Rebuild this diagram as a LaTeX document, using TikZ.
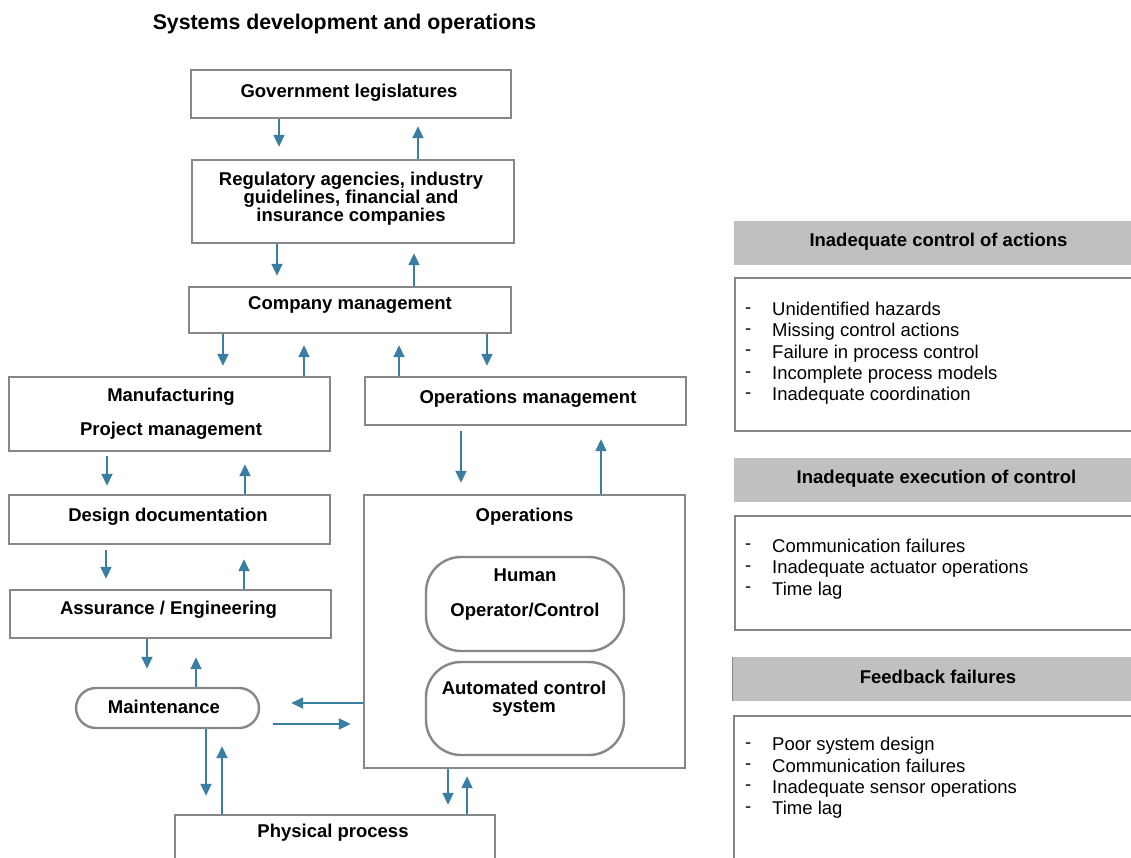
\documentclass[tikz,border=0pt]{standalone}
\usepackage{fontspec}
\setmainfont{Liberation Sans}
\usetikzlibrary{arrows.meta}
\definecolor{arrblue}{RGB}{58,127,161}
\definecolor{boxgray}{RGB}{135,135,138}
\definecolor{hdrgray}{RGB}{192,192,192}
\tikzset{
  box/.style={draw=boxgray, line width=2.4pt, fill=white, inner sep=0pt},
  rbox/.style={box, rounded corners=#1},
  lbl/.style={font=\bfseries\fontsize{18.5}{18}\selectfont, align=center, inner sep=0pt},
  hdr/.style={fill=hdrgray, draw=none, inner sep=0pt},
  lst/.style={font=\fontsize{18.5}{21.3}\selectfont, align=left, inner sep=0pt, anchor=west},
  arr/.style={draw=arrblue, line width=1.8pt, -{Triangle[width=11pt,length=12pt]}, arrblue},
}
\newcommand{\itm}[1]{\makebox[27pt][l]{\raisebox{2.5pt}{-}}#1}
\begin{document}
\begin{tikzpicture}[x=1pt,y=-1pt]
\useasboundingbox (0,0) rectangle (1131,857);
\clip (0,0) rectangle (1131,857);
\fill[white] (0,0) rectangle (1131,857);

\node[font=\bfseries\fontsize{21.3}{24}\selectfont, inner sep=0pt] (title) at (344.5,24) {Systems development and operations};

% left column boxes
\node[box, minimum width=320pt, minimum height=48pt] (gov) at (351,94) {};
\node[lbl] (govt) at (349,93) {Government legislatures};
\node[box, minimum width=322pt, minimum height=83pt] (reg) at (353,201.5) {};
\node[lbl] (regt) at (351,199) {Regulatory agencies, industry\\guidelines, financial and\\insurance companies};
\node[box, minimum width=322pt, minimum height=46pt] (cm) at (350,310) {};
\node[lbl] (cmt) at (350,305) {Company management};
\node[box, minimum width=321pt, minimum height=74pt] (mfg) at (169.5,414) {};
\node[lbl] (mfgt) at (171,414) {Manufacturing\\[16pt]Project management};
\node[box, minimum width=321pt, minimum height=48pt] (om) at (525.5,401) {};
\node[lbl] (omt) at (528,399) {Operations management};
\node[box, minimum width=321pt, minimum height=49pt] (dd) at (169.5,519.5) {};
\node[lbl] (ddt) at (168,517) {Design documentation};
\node[box, minimum width=321pt, minimum height=48pt] (ae) at (170.5,614) {};
\node[lbl] (aet) at (168.5,610) {Assurance / Engineering};
\node[rbox=20pt, minimum width=183pt, minimum height=40pt] (mt) at (167.5,708) {};
\node[lbl] (mtt) at (164,707) {Maintenance};
\node[box, minimum width=321pt, minimum height=273pt] (ops) at (524.5,631.5) {};
\node[lbl] (opst) at (524.5,517) {Operations};
\node[rbox=35pt, minimum width=198pt, minimum height=94pt] (hum) at (525,604) {};
\node[lbl] (humt) at (525,595) {Human\\[17pt]Operator/Control};
\node[rbox=35pt, minimum width=198pt, minimum height=93pt] (acs) at (525,708.5) {};
\node[lbl] (acst) at (524,699) {Automated control\\system};
\node[box, minimum width=320pt, minimum height=60pt] (pp) at (335,845) {};
\node[lbl] (ppt) at (333,833) {Physical process};

% arrows
\draw[arr, shorten >=12pt] (279,0 |- gov.south) -- (279,0 |- reg.north);
\draw[arr, shorten >=7pt] (418,0 |- reg.north) -- (418,0 |- gov.south);
\draw[arr, shorten >=10pt] (277,0 |- reg.south) -- (277,0 |- cm.north);
\draw[arr, shorten >=9pt] (414,0 |- cm.north) -- (414,0 |- reg.south);
\draw[arr, shorten >=10pt] (223,0 |- cm.south) -- (223,0 |- mfg.north);
\draw[arr, shorten >=11pt] (304,0 |- mfg.north) -- (304,0 |- cm.south);
\draw[arr, shorten >=11pt] (399,0 |- om.north) -- (399,0 |- cm.south);
\draw[arr, shorten >=10pt] (487,0 |- cm.south) -- (487,0 |- om.north);
\draw[arr, shorten <=4pt, shorten >=8pt] (107,0 |- mfg.south) -- (107,0 |- dd.north);
\draw[arr, shorten >=12pt] (245,0 |- dd.north) -- (245,0 |- mfg.south);
\draw[arr, shorten <=5pt, shorten >=11pt] (461,0 |- om.south) -- (461,0 |- ops.north);
\draw[arr, shorten >=13pt] (601,0 |- ops.north) -- (601,0 |- om.south);
\draw[arr, shorten <=5pt, shorten >=10pt] (106,0 |- dd.south) -- (106,0 |- ae.north);
\draw[arr, shorten >=14pt] (244,0 |- ae.north) -- (244,0 |- dd.south);
\draw[arr, shorten >=18pt] (147,0 |- ae.south) -- (147,0 |- mt.north);
\draw[arr, shorten >=18pt] (196,0 |- mt.north) -- (196,0 |- ae.south);
\draw[arr, shorten >=31pt] (ops.west |- 0,703) -- (mt.east |- 0,703);
\draw[arr, shorten <=13pt, shorten >=12pt] (mt.east |- 0,724) -- (ops.west |- 0,724);
\draw[arr, shorten >=18pt] (206,0 |- mt.south) -- (206,0 |- pp.north);
\draw[arr, shorten >=17pt] (222,0 |- pp.north) -- (222,0 |- mt.south);
\draw[arr, shorten >=9pt] (448,0 |- ops.south) -- (448,0 |- pp.north);
\draw[arr, shorten >=7pt] (467,0 |- pp.north) -- (467,0 |- ops.south);

% right panel
\node[hdr, minimum width=409pt, minimum height=44pt] (h1) at (938.5,243) {};
\node[lbl] (h1t) at (938.5,242) {Inadequate control of actions};
\node[box, minimum width=405pt, minimum height=153pt] (l1) at (937.5,354.5) {};
\node[lst] (l1t) at (745,353.5) {\itm{Unidentified hazards}\\\itm{Missing control actions}\\\itm{Failure in process control}\\\itm{Incomplete process models}\\\itm{Inadequate coordination}};

\node[hdr, minimum width=409pt, minimum height=44pt] (h2) at (938.5,480) {};
\node[lbl] (h2t) at (936.5,479) {Inadequate execution of control};
\node[box, minimum width=405pt, minimum height=114pt] (l2) at (937.5,573) {};
\node[lst] (l2t) at (745,569) {\itm{Communication failures}\\\itm{Inadequate actuator operations}\\\itm{Time lag}};

\node[hdr, minimum width=410pt, minimum height=44pt] (h3) at (938,679) {};
\draw[boxgray, line width=1pt] (h3.north west) -- (h3.south west);
\node[lbl] (h3t) at (938,677) {Feedback failures};
\node[box, minimum width=406pt, minimum height=154pt] (l3) at (937,793) {};
\node[lst] (l3t) at (745,778) {\itm{Poor system design}\\\itm{Communication failures}\\\itm{Inadequate sensor operations}\\\itm{Time lag}};
\end{tikzpicture}
\end{document}
